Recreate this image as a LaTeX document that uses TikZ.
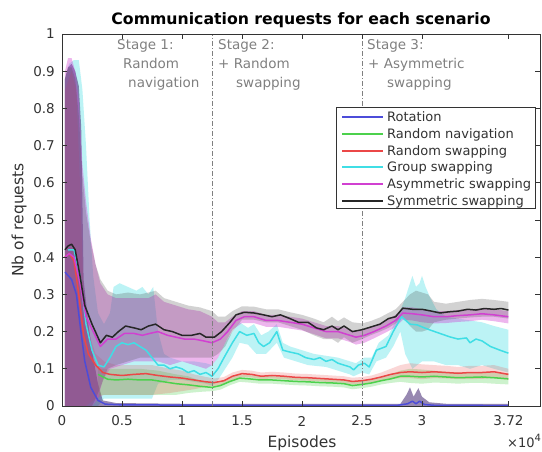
\documentclass[tikz,border=0pt]{standalone}
\usepackage{fontspec}
\setmainfont{DejaVu Sans}
\definecolor{cblue}{rgb}{0.3,0.3,0.85}
\definecolor{cgreen}{rgb}{0.3,0.82,0.3}
\definecolor{cred}{rgb}{0.92,0.28,0.28}
\definecolor{ccyan}{rgb}{0.25,0.87,0.9}
\definecolor{cmag}{rgb}{0.82,0.25,0.82}
\definecolor{cblack}{rgb}{0.15,0.15,0.15}
\definecolor{axcol}{rgb}{0.2,0.2,0.2}
\definecolor{stagecol}{rgb}{0.5,0.5,0.5}
\definecolor{rotband}{rgb}{0.3,0.2,0.48}
\tikzset{
  curve/.style={draw=#1,line width=1.5pt,line join=round},
  axisline/.style={draw=axcol,line width=0.8pt},
  stageline/.style={draw=stagecol,line width=0.7pt,dash pattern=on 5pt off 2pt on 1pt off 2pt},
  ticklab/.style={inner sep=0pt,text=axcol,font=\fontsize{13.5}{15}\selectfont},
  stagetxt/.style={inner sep=0pt,anchor=base west,text=stagecol,font=\fontsize{13.5}{15}\selectfont},
  legtxt/.style={inner sep=0pt,anchor=base west,text=axcol,font=\fontsize{13}{15}\selectfont},
  legline/.style={line width=1.8pt}
}
\begin{document}
\begin{tikzpicture}[x=1pt,y=1pt]
\useasboundingbox (0,0) rectangle (542,451);
\fill[white] (0,0) rectangle (542,451);
\begin{scope}[shift={(62pt,45pt)},x=120pt,y=372pt]
% ---------- bands ----------
% group swapping
\fill[fill=ccyan,opacity=0.35] plot coordinates {(0.025,0.88) (0.06,0.92) (0.1,0.93) (0.14,0.93) (0.17,0.85) (0.2,0.7) (0.23,0.5) (0.26,0.35) (0.3,0.25) (0.35,0.22) (0.4,0.25) (0.43,0.32) (0.48,0.33) (0.55,0.32) (0.62,0.31) (0.67,0.32) (0.72,0.3) (0.76,0.32) (0.8,0.2) (0.85,0.14) (0.9,0.13) (1.0,0.12) (1.1,0.12) (1.2,0.115) (1.25,0.11) (1.3,0.13) (1.36,0.17) (1.42,0.2) (1.48,0.225) (1.55,0.21) (1.6,0.22) (1.66,0.19) (1.72,0.2) (1.79,0.22) (1.84,0.17) (1.9,0.16) (2.0,0.15) (2.1,0.14) (2.2,0.135) (2.3,0.13) (2.4,0.12) (2.45,0.115) (2.52,0.13) (2.58,0.13) (2.64,0.17) (2.72,0.19) (2.8,0.24) (2.86,0.29) (2.9,0.33) (2.92,0.35) (2.95,0.32) (2.98,0.33) (3.0,0.35) (3.03,0.32) (3.07,0.29) (3.12,0.26) (3.2,0.24) (3.3,0.235) (3.4,0.23) (3.5,0.225) (3.6,0.215) (3.72,0.205)} -- plot coordinates {(3.72,0.09) (3.6,0.1) (3.5,0.11) (3.4,0.1) (3.3,0.11) (3.2,0.11) (3.1,0.12) (3.0,0.12) (2.92,0.1) (2.86,0.14) (2.82,0.2) (2.76,0.16) (2.7,0.13) (2.62,0.12) (2.56,0.085) (2.5,0.09) (2.43,0.08) (2.4,0.085) (2.3,0.095) (2.2,0.105) (2.05,0.11) (1.95,0.12) (1.85,0.13) (1.79,0.17) (1.7,0.14) (1.62,0.14) (1.55,0.165) (1.48,0.17) (1.42,0.13) (1.36,0.1) (1.3,0.07) (1.25,0.055) (1.2,0.06) (1.1,0.065) (1.0,0.07) (0.9,0.07) (0.8,0.06) (0.75,0.02) (0.6,0.02) (0.45,0.02) (0.35,0.02) (0.3,0.0) (0.025,0.0)} -- cycle;
% rotation
\fill[fill=rotband,opacity=0.58] plot coordinates {(0.025,0.88) (0.05,0.91) (0.08,0.92) (0.11,0.9) (0.14,0.86) (0.16,0.75) (0.17,0.55) (0.18,0.34) (0.22,0.22) (0.26,0.13) (0.3,0.06) (0.34,0.015) (0.45,0.008) (1.0,0.006) (2.0,0.006) (2.82,0.006) (2.87,0.03) (2.9,0.05) (2.93,0.025) (2.97,0.048) (3.0,0.025) (3.06,0.01) (3.2,0.006) (3.72,0.006)} -- plot coordinates {(3.72,0) (0.025,0)} -- cycle;
% random navigation
\fill[fill=cgreen,opacity=0.28] plot coordinates {(0.3,0.1) (0.38,0.1) (0.5,0.1) (0.65,0.1) (0.8,0.095) (0.95,0.085) (1.05,0.08) (1.15,0.068) (1.25,0.062) (1.32,0.066) (1.4,0.076) (1.48,0.085) (1.56,0.083) (1.65,0.08) (1.75,0.08) (1.85,0.078) (1.95,0.076) (2.05,0.075) (2.15,0.073) (2.25,0.072) (2.35,0.07) (2.42,0.065) (2.5,0.068) (2.58,0.072) (2.66,0.078) (2.74,0.085) (2.82,0.095) (2.9,0.1) (3.0,0.098) (3.1,0.095) (3.2,0.092) (3.3,0.09) (3.4,0.09) (3.5,0.092) (3.6,0.09) (3.72,0.088)} -- plot coordinates {(3.72,0.058) (3.6,0.06) (3.5,0.062) (3.4,0.062) (3.3,0.06) (3.2,0.062) (3.1,0.063) (3.0,0.06) (2.9,0.062) (2.82,0.065) (2.74,0.062) (2.66,0.058) (2.58,0.052) (2.5,0.048) (2.42,0.045) (2.35,0.05) (2.25,0.052) (2.15,0.053) (2.05,0.055) (1.95,0.056) (1.85,0.058) (1.75,0.06) (1.65,0.06) (1.56,0.063) (1.48,0.065) (1.4,0.056) (1.32,0.044) (1.25,0.04) (1.15,0.038) (1.05,0.035) (0.95,0.03) (0.8,0.03) (0.65,0.03) (0.5,0.03) (0.38,0.03) (0.3,0.03)} -- cycle;
% random swapping
\fill[fill=cred,opacity=0.22] plot coordinates {(0.025,0.85) (0.08,0.9) (0.12,0.85) (0.15,0.6) (0.18,0.3) (0.22,0.2) (0.28,0.14) (0.35,0.12) (0.45,0.11) (0.6,0.11) (0.75,0.11) (0.9,0.1) (1.0,0.095) (1.1,0.085) (1.2,0.078) (1.27,0.074) (1.35,0.078) (1.42,0.09) (1.5,0.097) (1.58,0.095) (1.66,0.09) (1.75,0.092) (1.85,0.09) (1.95,0.087) (2.05,0.086) (2.15,0.084) (2.25,0.082) (2.35,0.08) (2.42,0.076) (2.5,0.078) (2.58,0.082) (2.66,0.09) (2.74,0.1) (2.82,0.11) (2.9,0.115) (3.0,0.112) (3.1,0.11) (3.2,0.108) (3.3,0.105) (3.4,0.108) (3.5,0.108) (3.6,0.11) (3.72,0.1)} -- plot coordinates {(3.72,0.07) (3.6,0.075) (3.5,0.073) (3.4,0.072) (3.3,0.072) (3.2,0.074) (3.1,0.075) (3.0,0.072) (2.9,0.075) (2.82,0.075) (2.74,0.072) (2.66,0.068) (2.58,0.063) (2.5,0.06) (2.42,0.058) (2.35,0.062) (2.25,0.064) (2.15,0.066) (2.05,0.068) (1.95,0.069) (1.85,0.072) (1.75,0.074) (1.66,0.072) (1.58,0.077) (1.5,0.078) (1.42,0.07) (1.35,0.058) (1.27,0.054) (1.2,0.052) (1.1,0.045) (1.0,0.04) (0.9,0.035) (0.75,0.03) (0.6,0.03) (0.45,0.03) (0.35,0.03) (0.28,0.02) (0.2,0.0) (0.025,0.0)} -- cycle;
% asymmetric swapping
\fill[fill=cmag,opacity=0.38] plot coordinates {(0.025,0.9) (0.05,0.935) (0.08,0.935) (0.11,0.9) (0.14,0.82) (0.17,0.65) (0.2,0.55) (0.24,0.45) (0.28,0.38) (0.32,0.33) (0.38,0.3) (0.45,0.29) (0.55,0.29) (0.65,0.29) (0.72,0.29) (0.78,0.3) (0.85,0.28) (0.95,0.27) (1.05,0.26) (1.15,0.255) (1.25,0.24) (1.3,0.225) (1.36,0.225) (1.42,0.24) (1.5,0.255) (1.6,0.255) (1.7,0.245) (1.8,0.245) (1.9,0.24) (2.0,0.235) (2.1,0.225) (2.2,0.215) (2.3,0.215) (2.4,0.205) (2.45,0.2) (2.52,0.205) (2.6,0.215) (2.7,0.23) (2.78,0.245) (2.84,0.265) (2.92,0.265) (3.0,0.26) (3.1,0.255) (3.2,0.255) (3.3,0.258) (3.4,0.26) (3.5,0.262) (3.6,0.26) (3.72,0.255)} -- plot coordinates {(3.72,0.222) (3.6,0.228) (3.5,0.232) (3.4,0.228) (3.3,0.226) (3.2,0.223) (3.1,0.222) (3.0,0.225) (2.92,0.23) (2.84,0.232) (2.78,0.212) (2.7,0.198) (2.6,0.182) (2.52,0.17) (2.45,0.165) (2.4,0.172) (2.3,0.182) (2.2,0.182) (2.1,0.193) (2.0,0.203) (1.9,0.208) (1.8,0.213) (1.7,0.213) (1.6,0.223) (1.5,0.223) (1.42,0.205) (1.36,0.17) (1.3,0.13) (1.25,0.11) (1.2,0.1) (1.1,0.11) (1.0,0.12) (0.9,0.11) (0.8,0.12) (0.7,0.12) (0.6,0.12) (0.5,0.11) (0.4,0.1) (0.34,0.07) (0.3,0.02) (0.25,0.0) (0.025,0.0)} -- cycle;
% symmetric swapping
\fill[fill=black!70,opacity=0.25] plot coordinates {(0.025,0.88) (0.05,0.91) (0.08,0.91) (0.11,0.88) (0.14,0.78) (0.17,0.62) (0.2,0.52) (0.24,0.44) (0.28,0.38) (0.32,0.34) (0.38,0.31) (0.45,0.3) (0.55,0.305) (0.65,0.3) (0.72,0.305) (0.78,0.31) (0.85,0.29) (0.95,0.28) (1.05,0.27) (1.15,0.265) (1.25,0.255) (1.3,0.24) (1.36,0.24) (1.42,0.255) (1.5,0.268) (1.6,0.267) (1.7,0.26) (1.8,0.26) (1.9,0.252) (2.0,0.245) (2.1,0.235) (2.18,0.225) (2.25,0.24) (2.3,0.228) (2.35,0.238) (2.42,0.225) (2.5,0.222) (2.57,0.228) (2.65,0.238) (2.72,0.25) (2.78,0.26) (2.84,0.28) (2.9,0.3) (2.95,0.31) (3.0,0.305) (3.05,0.3) (3.1,0.28) (3.2,0.275) (3.3,0.28) (3.4,0.285) (3.5,0.288) (3.6,0.285) (3.72,0.28)} -- plot coordinates {(3.72,0.235) (3.6,0.24) (3.5,0.24) (3.4,0.238) (3.3,0.235) (3.2,0.232) (3.1,0.225) (3.05,0.205) (3.0,0.2) (2.95,0.2) (2.9,0.215) (2.84,0.24) (2.78,0.222) (2.72,0.21) (2.65,0.2) (2.57,0.19) (2.5,0.18) (2.42,0.17) (2.35,0.185) (2.3,0.17) (2.25,0.18) (2.18,0.18) (2.1,0.19) (2.0,0.205) (1.9,0.215) (1.8,0.225) (1.7,0.225) (1.6,0.232) (1.5,0.232) (1.42,0.2) (1.36,0.16) (1.3,0.14) (1.25,0.13) (1.15,0.13) (1.05,0.13) (0.95,0.13) (0.85,0.13) (0.75,0.13) (0.65,0.13) (0.55,0.12) (0.45,0.11) (0.38,0.1) (0.32,0.05) (0.28,0.02) (0.25,0.0) (0.025,0.0)} -- cycle;
% ---------- lines ----------
\draw[curve=cblue] plot coordinates {(0.025,0.36) (0.08,0.34) (0.12,0.3) (0.15,0.22) (0.19,0.12) (0.24,0.05) (0.3,0.015) (0.36,0.005) (0.5,0.003) (1.5,0.002) (2.8,0.002) (2.88,0.006) (2.92,0.013) (2.95,0.006) (2.98,0.013) (3.02,0.004) (3.1,0.002) (3.72,0.001)};
\draw[curve=cgreen] plot coordinates {(0.3,0.085) (0.38,0.072) (0.45,0.07) (0.55,0.072) (0.65,0.07) (0.75,0.07) (0.85,0.065) (0.95,0.06) (1.05,0.057) (1.15,0.053) (1.25,0.05) (1.32,0.055) (1.4,0.066) (1.48,0.075) (1.56,0.073) (1.65,0.07) (1.75,0.07) (1.85,0.068) (1.95,0.066) (2.05,0.065) (2.15,0.063) (2.25,0.062) (2.35,0.06) (2.42,0.055) (2.5,0.058) (2.58,0.062) (2.66,0.068) (2.74,0.073) (2.82,0.08) (2.9,0.08) (3.0,0.078) (3.1,0.08) (3.2,0.078) (3.3,0.076) (3.4,0.077) (3.5,0.078) (3.6,0.076) (3.72,0.073)};
\draw[curve=cred] plot coordinates {(0.025,0.40) (0.06,0.41) (0.1,0.39) (0.14,0.3) (0.18,0.19) (0.22,0.14) (0.28,0.11) (0.34,0.09) (0.4,0.085) (0.5,0.082) (0.6,0.085) (0.7,0.087) (0.8,0.082) (0.9,0.078) (1.0,0.075) (1.1,0.07) (1.2,0.065) (1.27,0.063) (1.35,0.068) (1.42,0.08) (1.5,0.087) (1.58,0.085) (1.66,0.08) (1.75,0.082) (1.85,0.08) (1.95,0.077) (2.05,0.076) (2.15,0.074) (2.25,0.072) (2.35,0.07) (2.42,0.066) (2.5,0.068) (2.58,0.072) (2.66,0.078) (2.74,0.085) (2.82,0.09) (2.9,0.092) (3.0,0.09) (3.1,0.092) (3.2,0.09) (3.3,0.088) (3.4,0.09) (3.5,0.09) (3.6,0.092) (3.72,0.085)};
\draw[curve=ccyan] plot coordinates {(0.05,0.42) (0.1,0.42) (0.15,0.35) (0.2,0.22) (0.25,0.15) (0.3,0.11) (0.35,0.105) (0.4,0.13) (0.45,0.16) (0.5,0.17) (0.55,0.165) (0.6,0.17) (0.65,0.16) (0.7,0.15) (0.75,0.13) (0.8,0.11) (0.85,0.11) (0.9,0.1) (0.95,0.105) (1.0,0.1) (1.05,0.09) (1.1,0.095) (1.15,0.085) (1.2,0.09) (1.25,0.08) (1.3,0.1) (1.35,0.13) (1.42,0.17) (1.48,0.2) (1.54,0.19) (1.6,0.195) (1.64,0.17) (1.68,0.16) (1.73,0.17) (1.79,0.2) (1.84,0.15) (1.9,0.145) (1.97,0.14) (2.03,0.13) (2.1,0.125) (2.15,0.13) (2.2,0.12) (2.25,0.125) (2.3,0.115) (2.35,0.11) (2.4,0.105) (2.43,0.097) (2.47,0.11) (2.52,0.115) (2.56,0.105) (2.62,0.15) (2.7,0.16) (2.76,0.2) (2.83,0.24) (2.9,0.22) (2.96,0.218) (3.02,0.21) (3.07,0.204) (3.15,0.195) (3.23,0.186) (3.3,0.18) (3.37,0.183) (3.4,0.17) (3.45,0.18) (3.5,0.175) (3.57,0.16) (3.65,0.15) (3.72,0.142)};
\draw[curve=cmag] plot coordinates {(0.025,0.40) (0.06,0.41) (0.1,0.40) (0.15,0.33) (0.2,0.24) (0.26,0.2) (0.32,0.16) (0.38,0.18) (0.45,0.18) (0.52,0.195) (0.6,0.195) (0.67,0.19) (0.73,0.195) (0.8,0.2) (0.88,0.19) (0.95,0.185) (1.02,0.18) (1.1,0.18) (1.18,0.175) (1.25,0.17) (1.32,0.18) (1.38,0.2) (1.45,0.23) (1.52,0.24) (1.6,0.24) (1.7,0.23) (1.8,0.23) (1.9,0.225) (2.0,0.22) (2.1,0.21) (2.2,0.2) (2.3,0.2) (2.4,0.19) (2.45,0.185) (2.52,0.19) (2.6,0.2) (2.7,0.215) (2.78,0.23) (2.84,0.25) (2.92,0.248) (3.0,0.245) (3.1,0.24) (3.2,0.24) (3.3,0.243) (3.4,0.245) (3.5,0.248) (3.6,0.245) (3.72,0.24)};
\draw[curve=cblack] plot coordinates {(0.025,0.42) (0.05,0.43) (0.08,0.435) (0.11,0.42) (0.15,0.35) (0.19,0.27) (0.25,0.22) (0.32,0.17) (0.37,0.19) (0.42,0.185) (0.47,0.2) (0.53,0.215) (0.6,0.21) (0.66,0.205) (0.72,0.215) (0.78,0.22) (0.85,0.205) (0.92,0.2) (1.0,0.19) (1.08,0.19) (1.15,0.195) (1.2,0.185) (1.27,0.185) (1.33,0.2) (1.4,0.225) (1.45,0.245) (1.52,0.252) (1.6,0.25) (1.68,0.245) (1.75,0.24) (1.82,0.245) (1.9,0.235) (1.97,0.225) (2.05,0.225) (2.12,0.21) (2.18,0.205) (2.25,0.215) (2.3,0.205) (2.35,0.215) (2.42,0.2) (2.5,0.205) (2.57,0.212) (2.65,0.22) (2.72,0.235) (2.78,0.24) (2.84,0.263) (2.92,0.26) (3.0,0.26) (3.08,0.255) (3.15,0.25) (3.22,0.253) (3.3,0.255) (3.38,0.26) (3.45,0.258) (3.52,0.262) (3.6,0.26) (3.66,0.262) (3.72,0.258)};
% ---------- stage separators ----------
\coordinate (s1b) at (1.25,0); \coordinate (s1t) at (1.25,1);
\coordinate (s2b) at (2.5,0); \coordinate (s2t) at (2.5,1);
\draw[stageline] (s1b) -- (s1t);
\draw[stageline] (s2b) -- (s2t);
% ---------- axes ----------
\draw[axisline] (0,0) rectangle (3.983,1);
\foreach \v in {0,0.1,0.2,0.3,0.4,0.5,0.6,0.7,0.8,0.9,1} {
  \draw[axisline] (0,\v) -- ++(5pt,0);
  \draw[axisline] (3.983,\v) -- ++(-5pt,0);
}
\foreach \v in {0,0.5,1,1.5,2,2.5,3,3.72} {
  \draw[axisline] (\v,0) -- ++(0,5pt);
  \draw[axisline] (\v,1) -- ++(0,-5pt);
}
\foreach \v/\l [count=\i] in {0/0,0.1/0.1,0.2/0.2,0.3/0.3,0.4/0.4,0.5/0.5,0.6/0.6,0.7/0.7,0.8/0.8,0.9/0.9,1/1}
  \node[ticklab,anchor=east] (yt\i) at ([xshift=-7pt]0,\v) {\l};
\foreach \v [count=\i] in {0,0.5,1,1.5,2,2.5,3,3.72}
  \node[ticklab,anchor=center] (xt\i) at ([yshift=-15pt]\v,0) {\v};
\end{scope}
% ---------- labels ----------
\node[inner sep=0pt,text=black,font=\bfseries\fontsize{15.7}{18}\selectfont] (title) at (301,431) {Communication requests for each scenario};
\node[inner sep=0pt,anchor=base,text=axcol,font=\fontsize{15.5}{18}\selectfont] (xlab) at (302,3.5) {Episodes};
\node[inner sep=0pt,anchor=base,rotate=90,text=axcol,font=\fontsize{15.5}{18}\selectfont] (ylab) at (23.5,231) {Nb of requests};
\node[inner sep=0pt,anchor=base west,text=axcol,font=\fontsize{13}{15}\selectfont] (xexp) at (507,3.5) {×10\raisebox{6pt}{\fontsize{10}{12}\selectfont 4}};
% ---------- stage texts ----------
\node[stagetxt] (st1a) at (117,401) {Stage 1:};
\node[stagetxt] (st1b) at (123,382) {Random};
\node[stagetxt] (st1c) at (128,363) {navigation};
\node[stagetxt] (st2a) at (218,401) {Stage 2:};
\node[stagetxt] (st2b) at (218,382) {+ Random};
\node[stagetxt] (st2c) at (236,363) {swapping};
\node[stagetxt] (st3a) at (367,401) {Stage 3:};
\node[stagetxt] (st3b) at (368,382) {+ Asymmetric};
\node[stagetxt] (st3c) at (387,363) {swapping};
% ---------- legend ----------
\node[draw=axcol,fill=white,line width=0.8pt,inner sep=0pt,minimum width=199pt,minimum height=101pt] (legbox) at (435.5,293.5) {};
\foreach \c/\t/\yy [count=\i] in {cblue/Rotation/334,cgreen/Random navigation/317,cred/Random swapping/300,ccyan/Group swapping/284,cmag/Asymmetric swapping/267,cblack/Symmetric swapping/250} {
  \coordinate (la\i) at (342,\yy);
  \coordinate (lb\i) at (383,\yy);
  \draw[legline,draw=\c] (la\i) -- (lb\i);
  \node[legtxt] (lt\i) at ([yshift=-4.5pt]387,\yy) {\t};
}
\end{tikzpicture}
\end{document}
